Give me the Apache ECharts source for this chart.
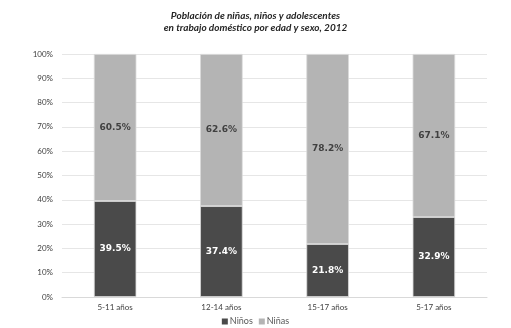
<!DOCTYPE html>
<html>
<head>
<meta charset="utf-8">
<script src="https://cdn.jsdelivr.net/npm/echarts@6/dist/echarts.min.js"></script>
<style>html,body{margin:0;padding:0;background:#fff}#chart{width:511px;height:328px}</style>
</head>
<body>
<div id="chart"></div>
<script>
// Población en trabajo doméstico por grupo de edad y sexo, 2012 (porcentajes)
const categories = ['5-11 años', '12-14 años', '15-17 años', '5-17 años'];
const ninos = [39.5, 37.4, 21.8, 32.9];
const ninas = [60.5, 62.6, 78.2, 67.1];
const yTicks = [0, 10, 20, 30, 40, 50, 60, 70, 80, 90, 100];

const chart = echarts.init(document.getElementById('chart'), null, { renderer: 'canvas' });
const labelBase = {
  show: true,
  position: 'inside',
  fontFamily: 'Verdana, DejaVu Sans, sans-serif',
  fontWeight: 'bold',
  fontSize: 9,
  formatter: p => p.value.toFixed(1) + '%'
};
chart.setOption({
  animation: false,
  title: {
    text: 'Población de niñas, niños y adolescentes\nen trabajo doméstico por edad y sexo, 2012',
    left: 'center',
    top: 5,
    textStyle: {
      fontFamily: 'Lato, sans-serif',
      fontStyle: 'italic',
      fontWeight: 'bold',
      fontSize: 10,
      lineHeight: 12,
      color: '#262626'
    }
  },
  legend: {
    bottom: -3,
    left: 'center',
    itemWidth: 6,
    itemHeight: 6,
    itemGap: 6,
    icon: 'rect',
    itemStyle: { borderWidth: 0 },
    textStyle: { fontFamily: 'Lato, sans-serif', fontSize: 9, color: '#595959', padding: [0, 0, 0, -3] },
    data: ['Niños', 'Niñas']
  },
  grid: { left: 62, right: 24, top: 54, bottom: 31 },
  xAxis: {
    type: 'category',
    data: categories,
    axisTick: { show: false },
    axisLine: { lineStyle: { color: '#d9d9d9' } },
    axisLabel: { fontFamily: 'Lato, sans-serif', fontSize: 8, color: '#404040', margin: 6 }
  },
  yAxis: {
    type: 'value',
    min: yTicks[0],
    max: yTicks[yTicks.length - 1],
    interval: 10,
    axisLine: { show: false },
    axisTick: { show: false },
    splitLine: { lineStyle: { color: '#e6e6e6', width: 1 } },
    axisLabel: { fontFamily: 'Lato, sans-serif', fontSize: 8, color: '#404040', margin: 9, formatter: v => v + '%' }
  },
  series: [
    {
      name: 'Niños',
      type: 'bar',
      stack: 'total',
      barWidth: '40%',
      data: ninos,
      itemStyle: { color: '#4a4a4a', borderColor: '#d9d9d9', borderWidth: 0.8 },
      label: Object.assign({}, labelBase, { color: '#ffffff' })
    },
    {
      name: 'Niñas',
      type: 'bar',
      stack: 'total',
      data: ninas,
      itemStyle: { color: '#b4b4b4', borderColor: '#d9d9d9', borderWidth: 0.8 },
      label: Object.assign({}, labelBase, { color: '#404040' })
    }
  ]
});
</script>
</body>
</html>
